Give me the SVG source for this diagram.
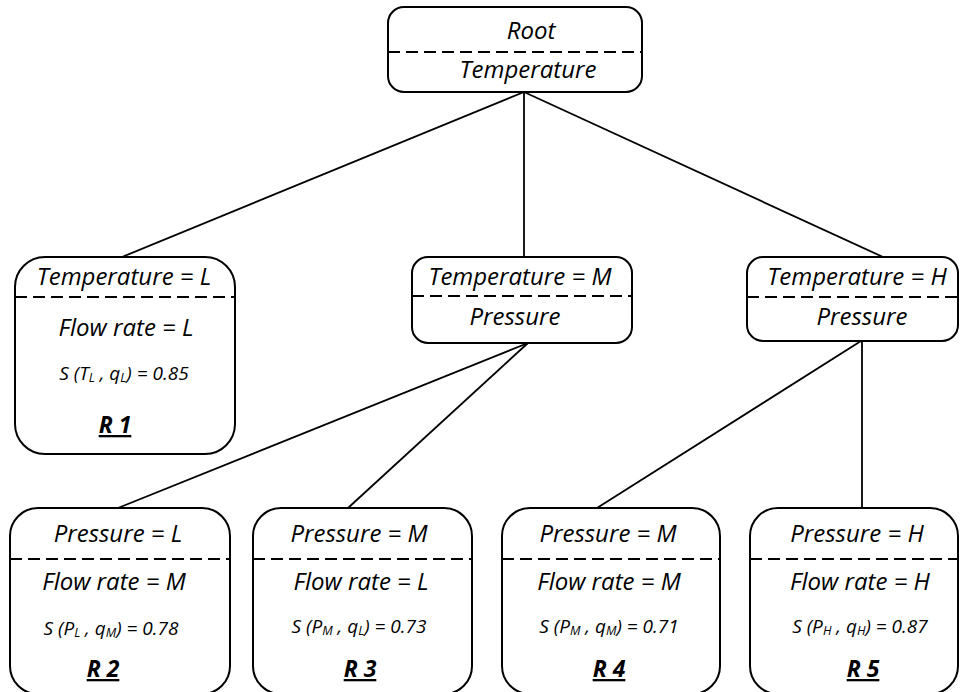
<svg xmlns="http://www.w3.org/2000/svg" width="960" height="692" viewBox="0 0 960 692">
<style>
.box{fill:#fff;stroke:#000;stroke-width:2}
.dash{stroke:#000;stroke-width:2;stroke-dasharray:12 6;fill:none}
.edge{stroke:#000;stroke-width:1.8;fill:none}
text{font-family:"Open Sans","Liberation Sans",sans-serif;font-style:italic;fill:#000;text-anchor:middle}
.t{font-size:24px;font-weight:500}
.s{font-size:19px;font-weight:500}
.sub{font-size:12.5px}
.r{font-size:23px;font-weight:bold;text-decoration:underline}
</style>
<rect width="960" height="692" fill="#fff"/>
<g id="connectors">
<line class="edge" x1="524" y1="92" x2="122" y2="257"/>
<line class="edge" x1="524" y1="92" x2="524" y2="257"/>
<line class="edge" x1="524" y1="92" x2="883" y2="257"/>
<line class="edge" x1="528" y1="343" x2="118" y2="508"/>
<line class="edge" x1="528" y1="343" x2="348" y2="508"/>
<line class="edge" x1="861" y1="341" x2="597" y2="508"/>
<line class="edge" x1="862" y1="341" x2="862" y2="508"/>
</g>
<g id="root">
<rect class="box" x="388" y="7" width="254" height="85" rx="16"/>
<line class="dash" x1="388" y1="52" x2="642" y2="52"/>
<text class="t" x="531" y="39">Root</text>
<text class="t" x="528" y="78">Temperature</text>
</g>
<g id="tl">
<rect class="box" x="15" y="257" width="220" height="197" rx="30"/>
<line class="dash" x1="15" y1="297" x2="235" y2="297"/>
<text class="t" x="124" y="285">Temperature = L</text>
<text class="t" x="126" y="336">Flow rate = L</text>
<text class="s" x="124" y="380">S (T<tspan class="sub" dy="2">L</tspan><tspan dy="-2"> , q</tspan><tspan class="sub" dy="2">L</tspan><tspan dy="-2">) = 0.85</tspan></text>
<text class="r" x="115" y="433">R 1</text>
</g>
<g id="tm">
<rect class="box" x="412" y="257" width="220" height="86" rx="16"/>
<line class="dash" x1="412" y1="296" x2="632" y2="296"/>
<text class="t" x="520" y="285">Temperature = M</text>
<text class="t" x="515" y="325">Pressure</text>
</g>
<g id="th">
<rect class="box" x="747" y="257" width="211" height="84" rx="16"/>
<line class="dash" x1="747" y1="297" x2="958" y2="297"/>
<text class="t" x="857" y="285">Temperature = H</text>
<text class="t" x="862" y="325">Pressure</text>
</g>
<g id="r2">
<rect class="box" x="10" y="508" width="220" height="186" rx="28"/>
<line class="dash" x1="10" y1="559" x2="230" y2="559"/>
<text class="t" x="118" y="542">Pressure = L</text>
<text class="t" x="114" y="590">Flow rate = M</text>
<text class="s" x="111" y="635">S (P<tspan class="sub" dy="2">L</tspan><tspan dy="-2"> , q</tspan><tspan class="sub" dy="2">M</tspan><tspan dy="-2">) = 0.78</tspan></text>
<text class="r" x="103" y="677">R 2</text>
</g>
<g id="r3">
<rect class="box" x="253" y="508" width="219" height="186" rx="28"/>
<line class="dash" x1="253" y1="559" x2="472" y2="559"/>
<text class="t" x="359" y="542">Pressure = M</text>
<text class="t" x="361" y="590">Flow rate = L</text>
<text class="s" x="359" y="633">S (P<tspan class="sub" dy="2">M</tspan><tspan dy="-2"> , q</tspan><tspan class="sub" dy="2">L</tspan><tspan dy="-2">) = 0.73</tspan></text>
<text class="r" x="360" y="677">R 3</text>
</g>
<g id="r4">
<rect class="box" x="502" y="508" width="218" height="186" rx="28"/>
<line class="dash" x1="502" y1="559" x2="720" y2="559"/>
<text class="t" x="608" y="542">Pressure = M</text>
<text class="t" x="609" y="590">Flow rate = M</text>
<text class="s" x="609" y="633">S (P<tspan class="sub" dy="2">M</tspan><tspan dy="-2"> , q</tspan><tspan class="sub" dy="2">M</tspan><tspan dy="-2">) = 0.71</tspan></text>
<text class="r" x="609" y="677">R 4</text>
</g>
<g id="r5">
<rect class="box" x="750" y="508" width="208" height="186" rx="28"/>
<line class="dash" x1="750" y1="559" x2="958" y2="559"/>
<text class="t" x="857" y="542">Pressure = H</text>
<text class="t" x="860" y="590">Flow rate = H</text>
<text class="s" x="860" y="633">S (P<tspan class="sub" dy="2">H</tspan><tspan dy="-2"> , q</tspan><tspan class="sub" dy="2">H</tspan><tspan dy="-2">) = 0.87</tspan></text>
<text class="r" x="863" y="677">R 5</text>
</g>
</svg>
